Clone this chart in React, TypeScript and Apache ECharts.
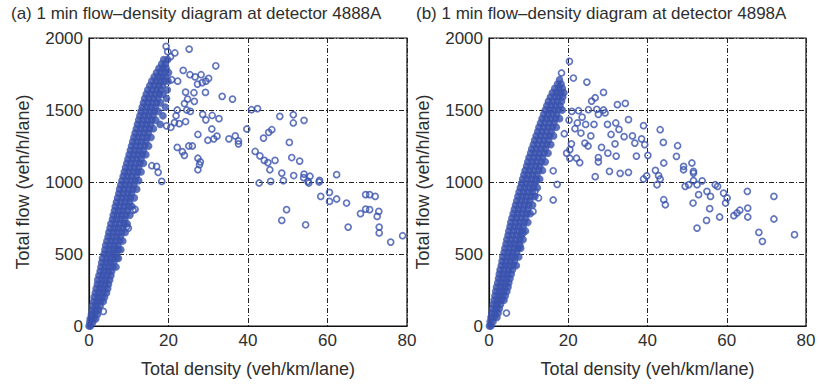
import React, { useEffect, useRef } from "react";
import * as echarts from "echarts";

const titleA = "(a) 1 min flow–density diagram at detector 4888A";
const titleB = "(b) 1 min flow–density diagram at detector 4898A";
const xName = "Total density (veh/km/lane)";
const yName = "Total flow (veh/h/lane)";
const xMin = 0, xMax = 80, xStep = 20;
const yMin = 0, yMax = 2000, yStep = 500;

// dense free-flow band, rows of [flow, densities...]
const bandRowsA: [number, number[]][] = [
  [0, [0.0, 0.4]], [25, [0.2, 0.9]], [50, [0.3, 1.1, 1.7]], [80, [0.6, 1.3, 2.1]],
  [110, [0.8, 1.6, 2.4]], [140, [0.9, 1.8, 2.8]], [170, [1.2, 2.0, 2.9, 3.6]],
  [200, [1.3, 2.3, 3.1, 3.9]], [230, [1.6, 2.5, 3.5, 4.4]], [260, [1.8, 2.8, 3.7, 4.7]],
  [290, [2.1, 3.0, 4.0, 4.9]], [320, [2.2, 3.3, 4.2, 5.2]], [350, [2.5, 3.5, 4.5, 5.5]],
  [380, [2.8, 3.8, 4.8, 5.7]], [410, [3.0, 4.0, 5.0, 6.0, 6.8]], [440, [3.2, 4.3, 5.3, 6.2]],
  [470, [3.4, 4.5, 5.5, 6.5, 7.4]], [500, [3.8, 4.8, 5.8, 6.8]], [530, [4.0, 5.1, 6.1, 7.1, 8.0]],
  [560, [4.2, 5.3, 6.3, 7.3]], [590, [4.5, 5.6, 6.6, 7.7, 8.5]], [620, [4.8, 5.8, 6.9, 7.9]],
  [650, [5.0, 6.1, 7.1, 8.2, 9.1]], [680, [5.3, 6.4, 7.4, 8.5]], [710, [5.5, 6.6, 7.7, 8.8, 9.6]],
  [740, [5.9, 6.9, 8.0, 9.0]], [770, [6.1, 7.2, 8.2, 9.3, 10.3]], [800, [6.4, 7.5, 8.5, 9.6]],
  [830, [6.6, 7.7, 8.8, 9.9, 10.8]], [860, [6.9, 8.0, 9.1, 10.2]], [890, [7.2, 8.3, 9.4, 10.4, 11.4]],
  [920, [7.5, 8.6, 9.7, 10.7]], [950, [7.7, 8.8, 9.9, 11.0, 12.0]], [980, [8.0, 9.1, 10.2, 11.3]],
  [1010, [8.3, 9.4, 10.5, 11.6, 12.5]], [1040, [8.6, 9.7, 10.8, 11.9]],
  [1070, [8.9, 10.0, 11.1, 12.2, 13.1]], [1100, [9.2, 10.3, 11.4, 12.5]],
  [1130, [9.5, 10.6, 11.7, 12.8, 13.7]], [1160, [9.8, 10.9, 12.0, 13.1]],
  [1190, [10.1, 11.2, 12.3, 13.4, 14.3]], [1220, [10.4, 11.5, 12.6, 13.7]],
  [1250, [10.7, 11.8, 12.9, 14.0, 15.0]], [1280, [11.0, 12.1, 13.2, 14.3]],
  [1310, [11.3, 12.4, 13.5, 14.6, 15.6]], [1340, [11.6, 12.7, 13.8, 14.9]],
  [1370, [11.9, 13.0, 14.1, 15.2, 16.2]], [1400, [12.2, 13.3, 14.4, 15.5, 17.9]],
  [1430, [12.5, 13.6, 14.7, 15.8, 16.8]], [1460, [12.8, 13.9, 15.0, 16.1, 18.6]],
  [1490, [13.1, 14.2, 15.3, 16.4, 17.4]], [1520, [13.4, 14.5, 15.6, 16.7, 19.2]],
  [1550, [13.7, 14.8, 15.9, 17.0, 18.0]], [1580, [14.0, 15.1, 16.2, 17.3, 19.5]],
  [1610, [14.4, 15.5, 16.6, 17.7, 18.6]], [1640, [14.8, 15.9, 17.0, 18.0, 19.7]],
  [1670, [15.3, 16.4, 17.5, 18.5]], [1700, [15.8, 16.9, 17.9, 18.9, 19.9]],
  [1730, [16.4, 17.4, 18.4, 19.3]], [1760, [17.0, 18.0, 19.0, 20.0]], [1790, [17.6, 18.6, 19.4]],
  [1820, [18.3, 19.2]], [1850, [18.8, 19.8]],
];

const scatterA: [number, number][] = [
  [19.4, 1942], [21.6, 1896], [25.2, 1923], [20.5, 1870], [19.8, 1905],
  [31.9, 1807], [23.7, 1775], [25.4, 1745], [26.7, 1730], [28.2, 1745], [30.1, 1720], [28.5, 1690],
  [27.3, 1680], [29.4, 1700], [20.8, 1710], [22.3, 1700], [24.3, 1624], [26.4, 1620], [29.3, 1622],
  [33.5, 1595], [36.1, 1576], [24.8, 1575], [26.5, 1560], [24.0, 1545], [22.2, 1500], [24.6, 1500],
  [25.5, 1490], [40.9, 1502], [42.4, 1510], [21.9, 1460], [28.6, 1470], [31.0, 1462], [32.7, 1440],
  [29.4, 1432], [48.0, 1456], [51.4, 1467], [51.4, 1410], [54.1, 1428], [22.7, 1405], [24.3, 1420],
  [21.5, 1412], [19.5, 1390], [20.6, 1380], [39.7, 1368], [30.9, 1368], [46.0, 1363], [45.2, 1345],
  [43.9, 1305], [27.4, 1330], [32.2, 1318], [31.4, 1300], [29.9, 1290], [25.1, 1250], [26.0, 1250],
  [35.2, 1300], [36.8, 1320], [37.6, 1285], [37.6, 1265], [50.4, 1275], [22.2, 1240], [23.5, 1210],
  [24.0, 1185], [41.8, 1212], [43.0, 1182], [27.4, 1165], [28.0, 1140], [27.8, 1120],
  [15.8, 1113], [17.0, 1108], [17.4, 1067], [18.3, 1004], [44.1, 1150], [45.0, 1135], [46.8, 1150],
  [51.0, 1170], [53.0, 1145], [48.5, 1062], [51.5, 1045], [54.1, 1055], [55.6, 1040], [58.0, 1011],
  [62.3, 1051], [27.4, 1085], [45.5, 1085], [42.8, 993], [45.7, 1004], [48.9, 1010], [54.0, 1030],
  [55.1, 1004], [55.3, 993], [57.9, 1000], [58.3, 900], [60.5, 928], [60.5, 865], [62.3, 882],
  [64.8, 854], [69.6, 912], [70.6, 912], [72.0, 900], [69.6, 812], [70.6, 808], [68.3, 780],
  [72.9, 796], [72.5, 761], [49.7, 808], [48.5, 733], [54.5, 703], [65.2, 687], [73.0, 687],
  [73.0, 646], [75.9, 583], [78.9, 627], [11.1, 805], [11.6, 810], [9.5, 690], [9.9, 680],
  [7.4, 530], [7.0, 474], [3.6, 101],
];

const bandRowsB: [number, number[]][] = [
  [0, [0.1, 0.5]], [30, [0.3, 1.0]], [60, [0.5, 1.3, 2.0]], [90, [0.7, 1.5, 2.3]],
  [120, [0.9, 1.8, 2.6]], [150, [1.1, 2.0, 2.9]], [180, [1.3, 2.2, 3.1, 3.8]],
  [210, [1.5, 2.4, 3.3, 4.1]], [240, [1.7, 2.7, 3.6, 4.5]], [270, [1.9, 2.9, 3.9, 4.8]],
  [300, [2.2, 3.1, 4.1, 5.0]], [330, [2.4, 3.4, 4.4, 5.3]], [360, [2.6, 3.6, 4.6, 5.6]],
  [390, [2.8, 3.8, 4.9, 5.9]], [420, [3.1, 4.1, 5.1, 6.1, 6.9]], [450, [3.3, 4.3, 5.4, 6.4]],
  [480, [3.5, 4.6, 5.6, 6.6, 7.5]], [510, [3.8, 4.9, 5.9, 6.9]], [540, [4.0, 5.1, 6.2, 7.2, 8.0]],
  [570, [4.3, 5.4, 6.4, 7.5]], [600, [4.5, 5.6, 6.7, 7.8, 8.6]], [630, [4.8, 5.9, 7.0, 8.1]],
  [660, [5.0, 6.1, 7.3, 8.3, 9.2]], [690, [5.3, 6.4, 7.5, 8.6]], [720, [5.5, 6.7, 7.8, 8.9, 9.8]],
  [750, [5.8, 6.9, 8.1, 9.2]], [780, [6.1, 7.2, 8.3, 9.5, 10.4]], [810, [6.4, 7.5, 8.6, 9.7]],
  [840, [6.7, 7.8, 8.9, 10.0, 11.0]], [870, [7.0, 8.1, 9.2, 10.3]], [900, [7.3, 8.4, 9.5, 10.6, 11.6]],
  [930, [7.6, 8.7, 9.8, 10.9]], [960, [7.9, 9.0, 10.1, 11.2, 12.2]], [990, [8.2, 9.3, 10.4, 11.5]],
  [1020, [8.5, 9.6, 10.7, 11.8, 12.8]], [1050, [8.8, 9.9, 11.0, 12.1]],
  [1080, [9.1, 10.2, 11.3, 12.5, 13.5]], [1110, [9.5, 10.6, 11.7, 12.8]],
  [1140, [9.8, 10.9, 12.0, 13.2, 14.2]], [1170, [10.1, 11.3, 12.4, 13.5]],
  [1200, [10.5, 11.6, 12.7, 13.9, 14.9]], [1230, [10.8, 12.0, 13.1, 14.2]],
  [1260, [11.2, 12.3, 13.5, 14.6, 15.6]], [1290, [11.5, 12.7, 13.8, 15.0]],
  [1320, [11.9, 13.0, 14.2, 15.3, 16.3]], [1350, [12.3, 13.4, 14.5, 15.7]],
  [1380, [12.6, 13.8, 14.9, 16.0, 17.0]], [1410, [13.0, 14.1, 15.3, 16.4]],
  [1440, [13.4, 14.5, 15.6, 16.8, 17.8]], [1470, [13.8, 14.9, 16.0, 17.1]],
  [1500, [14.2, 15.3, 16.4, 17.5, 18.5]], [1530, [14.6, 15.7, 16.8, 17.9]],
  [1560, [15.0, 16.1, 17.2, 18.3]], [1590, [15.5, 16.6, 17.6, 18.6]],
  [1620, [16.0, 17.0, 18.0, 18.9]], [1650, [16.6, 17.6, 18.5]], [1680, [17.3, 18.2]], [1710, [17.8]],
];

const scatterB: [number, number][] = [
  [20.3, 1838], [18.3, 1757], [21.3, 1722], [24.7, 1694], [28.9, 1622], [26.8, 1585], [25.9, 1562],
  [32.4, 1537], [34.4, 1546], [20.9, 1490], [22.6, 1495], [25.1, 1502], [27.2, 1505], [28.9, 1500],
  [27.6, 1470], [29.3, 1480], [35.2, 1433], [20.2, 1430], [22.3, 1410], [24.4, 1400], [26.5, 1400],
  [29.9, 1400], [32.0, 1410], [32.8, 1365], [39.0, 1391], [43.2, 1363], [19.0, 1335], [23.2, 1340],
  [25.7, 1320], [30.8, 1330], [34.1, 1315], [36.2, 1320], [44.0, 1275], [47.6, 1252], [20.8, 1265],
  [24.2, 1270], [25.0, 1250], [28.4, 1240], [31.8, 1265], [36.8, 1270], [38.5, 1300], [39.3, 1260],
  [30.0, 1200], [27.6, 1170], [32.1, 1180], [37.2, 1180], [40.1, 1185], [47.3, 1178], [20.4, 1165],
  [22.1, 1165], [22.9, 1135], [27.6, 1140], [16.2, 1078], [17.2, 984], [16.2, 875], [26.8, 1037],
  [30.4, 1074], [33.1, 1060], [35.2, 1067], [39.0, 1021], [39.8, 1042], [42.0, 1081], [42.8, 1044],
  [43.2, 1021], [42.4, 981], [44.1, 877], [44.5, 842], [49.1, 1085], [51.6, 1062], [49.5, 970],
  [50.4, 981], [51.6, 1010], [52.5, 981], [53.8, 1008], [52.9, 912], [55.0, 935], [55.9, 900],
  [51.5, 854], [55.7, 815], [57.1, 981], [57.7, 970], [59.2, 923], [60.1, 889], [59.7, 854],
  [52.5, 680], [54.9, 733], [58.2, 757], [61.8, 766], [62.6, 785], [63.3, 804], [65.2, 935],
  [65.3, 819], [65.3, 757], [71.9, 900], [71.9, 743], [68.1, 650], [69.0, 588], [77.1, 634],
  [44.1, 1132], [49.1, 1109], [51.2, 1132], [51.6, 1074], [11.6, 935], [12.0, 1010], [11.1, 796],
  [8.6, 646], [7.4, 540], [7.8, 560], [4.4, 90], [12.5, 889], [21.7, 1370], [23.5, 1450],
  [19.6, 1200], [20.4, 1225],
];

const flatten = (rows: [number, number[]][]) => {
  const out: [number, number][] = [];
  rows.forEach(([f, ds]) => ds.forEach((d) => out.push([d, f])));
  return out;
};

const FONT = "Liberation Sans, Arial, sans-serif";
const TXT = "#2e2e2e";
const BLUE = "#3a52ae";

export default function App() {
  const ref = useRef<HTMLDivElement>(null);
  useEffect(() => {
    if (!ref.current) return;
    const chart = echarts.init(ref.current, undefined, { renderer: "svg" });
    const grids = [
      { left: 89, top: 38, width: 318, height: 288 },
      { left: 489, top: 38, width: 317, height: 288 },
    ];
    const split = { show: true, lineStyle: { color: "#222", width: 1, type: [5, 2, 1, 2] } };
    const mkX = (i: number) => ({
      type: "value", gridIndex: i, min: xMin, max: xMax, interval: xStep,
      name: xName, nameLocation: "middle", nameGap: 34,
      nameTextStyle: { fontSize: 18, color: TXT, fontFamily: FONT },
      axisLine: { show: true, lineStyle: { color: "#111", width: 1.2 } },
      axisTick: { show: false },
      axisLabel: { fontSize: 17, color: TXT, fontFamily: FONT, margin: 6 },
      splitLine: split,
    });
    const mkY = (i: number) => ({
      type: "value", gridIndex: i, min: yMin, max: yMax, interval: yStep,
      name: yName, nameLocation: "middle", nameGap: 57,
      nameTextStyle: { fontSize: 18, color: TXT, fontFamily: FONT },
      axisLine: { show: true, lineStyle: { color: "#111", width: 1.2 } },
      axisTick: { show: false },
      axisLabel: { fontSize: 17, color: TXT, fontFamily: FONT, margin: 6, formatter: (v: number) => String(v) },
      splitLine: split,
    });
    const mkFill = (i: number, data: [number, number][]) => ({
      type: "scatter", xAxisIndex: i, yAxisIndex: i, data,
      symbol: "circle", symbolSize: 5,
      itemStyle: { color: BLUE, borderWidth: 0 },
      silent: true, z: 2,
    });
    const mkSeries = (i: number, data: [number, number][]) => ({
      type: "scatter", xAxisIndex: i, yAxisIndex: i, data,
      symbol: "circle", symbolSize: 6,
      itemStyle: { color: "rgba(0,0,0,0)", borderColor: BLUE, borderWidth: 1.7 },
      silent: true, z: 3,
    });
    const bandA = flatten(bandRowsA);
    const bandB = flatten(bandRowsB);
    chart.setOption({
      animation: false,
      backgroundColor: "#ffffff",
      title: [
        { text: titleA, left: 6, top: 0, textStyle: { fontSize: 17, fontWeight: "normal", color: TXT, fontFamily: FONT } },
        { text: titleB, left: 411, top: 0, textStyle: { fontSize: 17, fontWeight: "normal", color: TXT, fontFamily: FONT } },
      ],
      grid: grids.map((g) => ({ ...g, show: true, borderColor: "#111", borderWidth: 1.2, backgroundColor: "#fff", containLabel: false })),
      xAxis: [mkX(0), mkX(1)],
      yAxis: [mkY(0), mkY(1)],
      series: [
        mkFill(0, bandA),
        mkFill(1, bandB),
        mkSeries(0, [...bandA, ...scatterA]),
        mkSeries(1, [...bandB, ...scatterB]),
      ],
    });
    return () => chart.dispose();
  }, []);
  return <div ref={ref} style={{ position: "fixed", left: 0, top: 0, width: 819, height: 385 }} />;
}
